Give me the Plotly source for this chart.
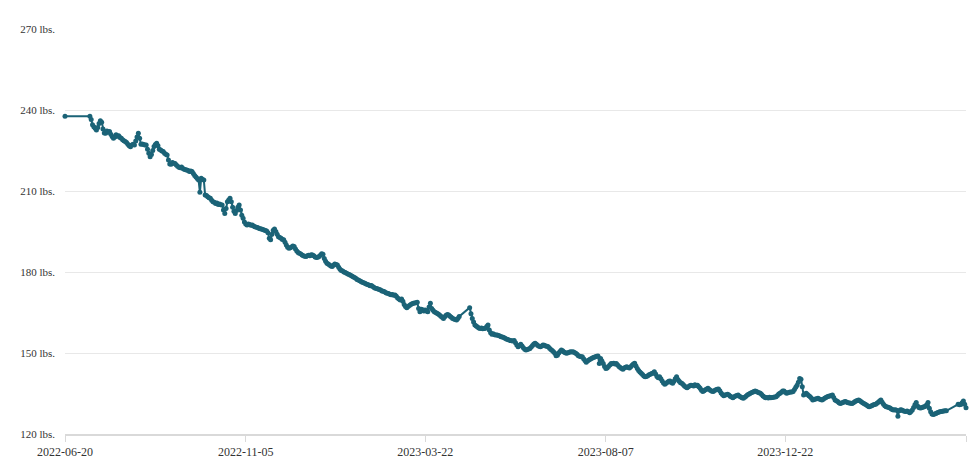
import pandas as pd
import plotly.graph_objects as go

# daily weigh-ins, one value per day from START_DATE, None = no weigh-in that day
START_DATE = "2022-06-20"
weights = [
    237.7, None, None, None, None, None, None, None, None, None,
    None, None, None, None, None, None, None, None, None, 237.7,
    236.5, 234.5, 233.8, 233.2, 232.6, 233.5, 235.0, 236.0, 235.5, 233.0,
    231.5, 231.4, 232.2, 231.8, 232.0, 231.0, 230.2, 229.5, 230.0, 230.8,
    230.3, 230.5, 229.8, 229.5, 229.0, 228.6, 228.3, 228.0, 227.3, 226.8,
    226.4, 227.0, 227.3, 227.0, 228.5, 230.0, 231.4, 229.5, 227.3, 227.4,
    227.2, 227.0, 227.0, 225.5, 224.0, 222.7, 223.5, 225.0, 226.5, 227.2,
    227.7, 226.8, 225.5, 225.2, 224.8, 224.6, 224.0, 223.6, 223.3, 221.5,
    220.0, 219.9, 220.6, 220.3, 220.2, 219.6, 219.2, 218.8, 218.6, 218.9,
    218.3, 218.1, 217.9, 217.8, 217.6, 217.2, 217.4, 217.2, 216.5, 215.7,
    215.2, 214.6, 214.1, 209.5, 214.7, 214.3, 214.1, 208.5, 208.3, 207.9,
    207.5, 207.3, 206.6, 206.0, 205.8, 205.4, 205.6, 205.0, 205.2, 204.9,
    204.8, 203.0, 201.7, 203.5, 206.0, 206.7, 207.3, 206.0, 204.0, 202.5,
    201.7, 202.8, 204.0, 204.8, 203.0, 201.0, 199.9, 198.5, 197.8, 197.4,
    197.8, 197.6, 197.3, 197.4, 197.0, 196.8, 196.6, 196.5, 196.2, 196.0,
    195.9, 195.7, 195.6, 195.4, 195.2, 194.5, 192.5, 191.9, 194.0, 195.5,
    195.9, 195.0, 194.0, 193.1, 192.8, 192.5, 192.0, 191.9, 191.0, 190.0,
    189.2, 188.8, 189.0, 189.3, 189.6, 189.4, 188.5, 187.8, 187.2, 186.9,
    186.7, 186.3, 186.0, 185.8, 185.7, 186.0, 186.2, 186.0, 186.4, 186.3,
    186.0, 185.6, 185.4, 185.5, 185.7, 186.2, 186.8, 186.6, 185.0, 184.0,
    183.2, 183.0, 182.6, 182.2, 182.0, 182.5, 183.0, 182.8, 182.6, 181.8,
    181.0, 180.6, 180.4, 180.0, 179.8, 179.5, 179.3, 179.1, 178.8, 178.5,
    178.2, 178.0, 177.7, 177.2, 177.0, 176.8, 176.5, 176.2, 176.0, 175.8,
    175.6, 175.4, 175.2, 174.9, 175.0, 174.6, 174.3, 174.0, 173.9, 173.7,
    173.5, 173.3, 173.0, 172.9, 172.7, 172.3, 172.1, 172.0, 171.8,
    171.6, 171.7, 171.4, 171.5, 171.0, 170.4, 170.0, 169.6, 170.0, 169.2,
    168.0, 167.2, 166.8, 167.2, 167.6, 168.0, 168.2, 168.4, 168.5, 168.6,
    168.8, 166.5, 165.3, 166.2, 166.0, 165.6, 165.9, 165.6, 165.3, 167.0,
    168.4, 166.5, 165.8, 165.3, 165.0, 164.7, 164.4, 164.1, 163.6, 163.2,
    162.8, 163.4, 164.0, 164.3, 164.1, 163.6, 163.2, 162.8, 162.6, 162.4,
    162.2, 162.8, 163.5, None, None, None, None, None, None, None,
    166.8, 164.5, 162.8, 161.5, 160.4, 160.0, 159.6, 159.3, 159.1, 159.3,
    159.0, 159.1, 159.2, 159.8, 160.4, 158.5, 157.5, 156.9, 157.1, 156.8,
    156.7, 156.7, 156.5, 156.3, 156.0, 155.9, 155.7, 155.5, 155.2, 155.0,
    154.8, 154.6, 154.5, 154.4, 154.6, 153.8, 153.0, 152.3, 152.8, 153.2,
    152.6, 151.9, 151.4, 151.1, 151.3, 151.5, 151.7, 152.2, 152.8, 153.3,
    153.6, 153.2, 152.8, 152.5, 152.3, 152.6, 153.0, 152.9, 152.6, 152.5,
    152.3, 151.8, 151.3, 150.9, 150.5, 149.9, 149.0, 149.2, 150.0, 150.6,
    151.1, 150.8, 150.4, 150.1, 149.9, 150.1, 150.3, 150.5, 150.4, 150.5,
    150.2, 149.9, 149.5, 149.0, 148.8, 148.6, 148.6, 147.9, 147.2, 146.6,
    147.0, 147.4, 147.7, 148.0, 148.2, 148.4, 148.6, 148.8, 148.9,
    146.1, 148.0, 147.0, 146.1, 145.0, 144.3, 144.4, 145.0, 145.6, 146.1,
    146.0, 146.2, 145.9, 146.1, 145.6, 145.0, 144.6, 144.3, 144.0, 144.4,
    144.7, 144.9, 144.6, 144.4, 144.9, 145.5, 145.9, 146.2, 145.2, 144.3,
    143.5, 143.0, 142.5, 142.0, 141.5, 141.2, 141.3, 141.6, 141.9, 142.1,
    142.4, 142.6, 143.1, 142.2, 141.3, 140.8, 141.2, 140.5, 139.6, 138.9,
    138.4, 138.8, 139.2, 139.5, 139.6, 139.1, 138.8, 139.5, 140.5, 141.2,
    140.2, 139.5, 139.0, 138.8, 138.3, 137.8, 137.4, 137.1, 137.5, 137.9,
    138.1, 138.0, 137.8, 138.2, 138.0, 138.1, 137.5, 136.9, 136.2, 135.7,
    136.0, 136.4, 136.7, 136.9, 136.5, 136.1, 135.8, 135.7, 136.1, 136.4,
    136.6, 136.7, 136.0, 135.2, 134.6, 134.2, 134.4, 134.5, 134.7, 134.4,
    134.0, 133.7, 133.4, 133.8, 134.1, 134.3, 134.4, 134.0, 133.7, 133.4,
    133.2, 133.6, 134.0, 134.4, 134.7, 135.0, 135.3, 135.5, 135.7, 135.9,
    135.7, 135.5, 135.3, 135.1, 134.6, 134.1, 133.7, 133.4, 133.5, 133.3,
    133.6, 133.4, 133.5, 133.6, 133.7, 133.8, 134.3, 134.8, 135.1, 135.5,
    135.9, 135.9, 135.5, 135.1, 135.3, 135.5, 135.6, 135.6, 135.7, 136.5,
    137.3, 138.1, 139.2, 140.6, 140.3, 137.5, 134.4, 134.8, 135.1, 134.6,
    134.2, 133.8, 133.2, 132.6, 132.8, 133.0, 133.1, 133.2, 133.0, 132.8,
    132.6, 132.9, 133.2, 133.5, 133.8, 134.0, 134.1, 134.3, 134.4,
    133.5, 132.6, 132.3, 132.0, 131.6, 131.3, 131.5, 131.7, 131.9, 132.0,
    131.8, 131.6, 131.5, 131.4, 131.3, 131.6, 131.9, 132.2, 132.4, 132.6,
    132.3, 131.9, 131.6, 131.3, 131.0, 130.7, 130.4, 130.1, 130.3, 130.5,
    130.7, 130.9, 131.0, 131.4, 131.8, 132.2, 132.6, 131.8, 131.0, 130.5,
    130.1, 130.0, 129.8, 129.6, 129.3, 129.0, 128.9, 129.0, 128.8, 126.6,
    128.6, 129.0, 128.9, 128.6, 128.4, 128.3, 128.5, 128.2, 127.9, 128.3,
    128.9, 129.8, 130.8, 131.7, 130.4, 129.8, 129.6, 129.7, 129.9, 130.1,
    130.3, 130.8, 131.7, 129.5, 128.2, 127.4, 127.2, 127.4, 127.6, 127.9,
    128.1, 128.2, 128.3, 128.4, 128.5, 128.6, 128.6, None, None, None,
    None, None, None, None, None, 131.0, 130.8, 130.9, 131.6, 132.2,
    131.0, 129.7,
]

y_ticks = [120, 150, 180, 210, 240, 270]
x_ticks = ["2022-06-20", "2022-11-05", "2023-03-22", "2023-08-07", "2023-12-22"]

LINE_COLOR = "#1b6377"
FONT = "Liberation Serif"

dates = pd.date_range(START_DATE, periods=len(weights), freq="D")

fig = go.Figure()
fig.add_trace(go.Scatter(
    x=dates,
    y=weights,
    mode="lines+markers",
    connectgaps=True,
    line=dict(color=LINE_COLOR, width=2),
    marker=dict(color=LINE_COLOR, size=5),
    cliponaxis=False,
    hoverinfo="x+y",
))

fig.update_layout(
    width=977,
    height=468,
    margin=dict(l=65, r=11, t=29, b=34, autoexpand=False),
    paper_bgcolor="white",
    plot_bgcolor="white",
    showlegend=False,
    font=dict(family=FONT, color="#333333"),
)

fig.update_xaxes(
    range=[dates[0], dates[-1]],
    tickvals=x_ticks + [dates[-1]],
    ticktext=x_ticks + [""],
    automargin=False,
    showgrid=False,
    showline=True,
    linecolor="#d9d9d9",
    linewidth=1.5,
    ticks="outside",
    ticklen=6,
    tickcolor="#d9d9d9",
    tickfont=dict(size=12, family=FONT, color="#333333"),
    zeroline=False,
)

fig.update_yaxes(
    range=[120, 270],
    tickvals=y_ticks,
    ticktext=[f"{v} lbs." for v in y_ticks],
    automargin=False,
    showgrid=True,
    gridcolor="#e8e8e8",
    gridwidth=1,
    showline=False,
    ticks="",
    ticklabelstandoff=9,
    tickfont=dict(size=11, family=FONT, color="#333333"),
    zeroline=False,
)

# page body has a default 8px margin; drop it so the chart sits at the window corner
fig.write_html("out.html", config={"displayModeBar": False},
               post_script="document.body.style.margin='0';")
